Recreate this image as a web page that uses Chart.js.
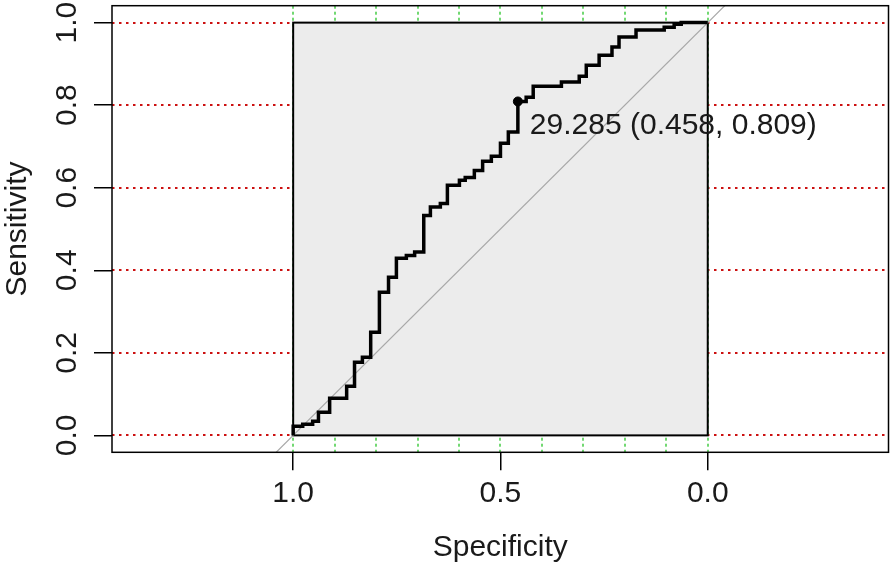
<!DOCTYPE html>
<html>
<head>
<meta charset="utf-8">
<script src="https://cdn.jsdelivr.net/npm/chart.js@4.4.1/dist/chart.umd.min.js"></script>
<style>
  html, body { margin: 0; padding: 0; background: #fff; }
  #chart { display: block; }
</style>
</head>
<body>
<canvas id="chart" width="894" height="567"></canvas>
<script>
// ROC curve corners (specificity, sensitivity)
let specificity = [1.000, 0.977, 0.953, 0.939, 0.912, 0.871, 0.852, 0.833, 0.813, 0.792,
    0.770, 0.751, 0.727, 0.707, 0.685, 0.669, 0.645, 0.628, 0.599, 0.585,
    0.563, 0.543, 0.522, 0.500, 0.481, 0.458, 0.438, 0.421, 0.353, 0.310,
    0.293, 0.262, 0.231, 0.214, 0.173, 0.105, 0.081, 0.064, 0.000];
let sensitivity = [0.000, 0.022, 0.027, 0.034, 0.056, 0.090, 0.119, 0.177, 0.189, 0.250,
    0.347, 0.383, 0.429, 0.436, 0.444, 0.533, 0.553, 0.562, 0.606, 0.618,
    0.625, 0.642, 0.664, 0.676, 0.708, 0.735, 0.809, 0.819, 0.846, 0.856,
    0.870, 0.897, 0.921, 0.941, 0.965, 0.982, 0.989, 0.996, 1.000];

// best threshold
let thresholdValue = 29.285;
let thresholdSpec = 0.458;
let thresholdSens = 0.809;

// chance line
let diagSpec = [1.1, -0.1];
let diagSens = [-0.1, 1.1];

let xTicks = [1.0, 0.5, 0.0];
let yTicks = [0.0, 0.2, 0.4, 0.6, 0.8, 1.0];
let xGrid = [0.0, 0.1, 0.2, 0.3, 0.4, 0.5, 0.6, 0.7, 0.8, 0.9, 1.0];
let yGrid = [0.0, 0.2, 0.4, 0.6, 0.8, 1.0];

const FONT = '"Liberation Sans", Arial, sans-serif';
const FSIZE = 30;

let rocPoints = specificity.map(function(s, i) { return {x: s, y: sensitivity[i]}; });
let diagPoints = diagSpec.map(function(s, i) { return {x: s, y: diagSens[i]}; });

const backdrop = {
    id: 'backdrop',
    beforeDatasetsDraw: function(chart) {
        const ctx = chart.ctx;
        const a = chart.chartArea;
        const xs = chart.scales.x, ys = chart.scales.y;
        ctx.save();
        // red dotted horizontal grid
        ctx.strokeStyle = '#cc1111';
        ctx.lineWidth = 2;
        ctx.setLineDash([2.5, 4.5]);
        yGrid.forEach(function(v) {
            const y = Math.round(ys.getPixelForValue(v));
            ctx.beginPath();
            ctx.moveTo(a.left, y);
            ctx.lineTo(a.right, y);
            ctx.stroke();
        });
        // green dotted vertical grid
        ctx.strokeStyle = '#44cc44';
        ctx.lineWidth = 1.5;
        ctx.setLineDash([3, 3]);
        xGrid.forEach(function(v) {
            const x = Math.round(xs.getPixelForValue(v));
            ctx.beginPath();
            ctx.moveTo(x, a.top);
            ctx.lineTo(x, a.bottom);
            ctx.stroke();
        });
        ctx.setLineDash([]);
        // max auc polygon
        const x1 = xs.getPixelForValue(1), x0 = xs.getPixelForValue(0);
        const y0 = ys.getPixelForValue(0), y1 = ys.getPixelForValue(1);
        ctx.fillStyle = '#ececec';
        ctx.fillRect(x1, y1, x0 - x1, y0 - y1);
        ctx.strokeStyle = '#000';
        ctx.lineWidth = 2;
        ctx.strokeRect(x1, y1, x0 - x1, y0 - y1);
        ctx.restore();
    },
    afterDatasetsDraw: function(chart) {
        const ctx = chart.ctx;
        const a = chart.chartArea;
        const xs = chart.scales.x, ys = chart.scales.y;
        ctx.save();
        ctx.strokeStyle = '#000';
        ctx.lineWidth = 1.5;
        ctx.strokeRect(a.left, a.top, a.right - a.left, a.bottom - a.top);
        const px = xs.getPixelForValue(thresholdSpec);
        const py = ys.getPixelForValue(thresholdSens);
        ctx.fillStyle = '#1a1a1a';
        ctx.font = FSIZE + 'px ' + FONT;
        ctx.textAlign = 'left';
        ctx.textBaseline = 'middle';
        ctx.fillText(thresholdValue.toFixed(3) + ' (' + thresholdSpec.toFixed(3) + ', ' + thresholdSens.toFixed(3) + ')', px + 12, py + 24);
        ctx.restore();
    }
};

const ctx = document.getElementById('chart').getContext('2d');
new Chart(ctx, {
    type: 'scatter',
    data: {
        datasets: [{
            label: 'threshold',
            data: [{x: thresholdSpec, y: thresholdSens}],
            pointRadius: 4.5,
            pointBackgroundColor: '#000',
            pointBorderColor: '#000',
            showLine: false
        }, {
            label: 'ROC',
            data: rocPoints,
            showLine: true,
            stepped: 'after',
            borderColor: '#000',
            borderWidth: 3.5,
            pointRadius: 0
        }, {
            label: 'chance',
            data: diagPoints,
            showLine: true,
            borderColor: '#a8a8a8',
            borderWidth: 1.2,
            pointRadius: 0
        }]
    },
    options: {
        responsive: false,
        devicePixelRatio: 1,
        animation: false,
        layout: { padding: { top: 5.7, right: 4.5, left: 0, bottom: 0 } },
        plugins: { legend: { display: false }, tooltip: { enabled: false } },
        scales: {
            x: {
                type: 'linear',
                position: 'bottom',
                reverse: true,
                min: -0.436,
                max: 1.437,
                afterBuildTicks: function(s) { s.ticks = xTicks.map(function(v) { return {value: v}; }); },
                afterFit: function(s) { s.height = 114.7; s.paddingLeft = 0; s.paddingRight = 0; },
                ticks: {
                    autoSkip: false,
                    maxRotation: 0,
                    padding: 5,
                    color: '#1a1a1a',
                    font: { family: FONT, size: FSIZE },
                    callback: function(v) { return v.toFixed(1); }
                },
                grid: { drawOnChartArea: false, drawTicks: true, tickLength: 18, color: '#000', lineWidth: 1.5 },
                border: { display: false },
                title: { display: true, text: 'Specificity', color: '#1a1a1a', font: { family: FONT, size: FSIZE }, padding: { top: 0, bottom: 1 } }
            },
            y: {
                type: 'linear',
                position: 'left',
                min: -0.041,
                max: 1.041,
                afterBuildTicks: function(s) { s.ticks = yTicks.map(function(v) { return {value: v}; }); },
                afterFit: function(s) { s.width = 112; s.paddingTop = 0; s.paddingBottom = 0; },
                ticks: {
                    autoSkip: false,
                    minRotation: 90,
                    maxRotation: 90,
                    crossAlign: 'center',
                    padding: 5,
                    color: '#1a1a1a',
                    font: { family: FONT, size: FSIZE },
                    callback: function(v) { return v.toFixed(1); }
                },
                grid: { drawOnChartArea: false, drawTicks: true, tickLength: 18, color: '#000', lineWidth: 1.5 },
                border: { display: false },
                title: { display: true, text: 'Sensitivity', color: '#1a1a1a', font: { family: FONT, size: FSIZE }, padding: { top: 0, bottom: 0 } }
            }
        }
    },
    plugins: [backdrop]
});
</script>
</body>
</html>
